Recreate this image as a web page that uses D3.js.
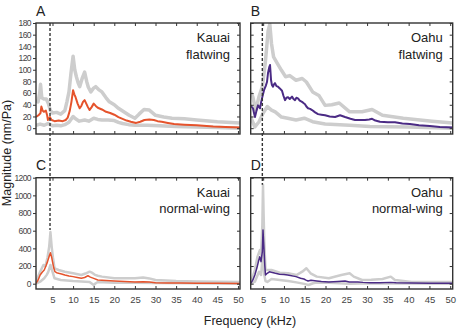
<!DOCTYPE html>
<html>
<head>
<meta charset="utf-8">
<script src="https://cdn.jsdelivr.net/npm/d3@7"></script>
<style>
body { margin: 0; background: #fff; }
svg { display: block; font-family: "Liberation Sans", Arial, sans-serif; }
</style>
</head>
<body>
<script>
var w = 461;
var h = 332;

// frequency ticks (kHz) and magnitude ticks (nm/Pa)
var xTicks = [5, 10, 15, 20, 25, 30, 35, 40, 45, 50];
var yTicksFlat = [0, 20, 40, 60, 80, 100, 120, 140, 160, 180];
var yTicksNormal = [0, 200, 400, 600, 800, 1000, 1200];

// A: Kauai flatwing, [kHz, nm/Pa]
var kauaiFlatMean = [[1,19],[1.6,22],[2.1,26],[2.3,37],[2.6,30],[2.9,28],[3.4,30],[3.7,22],[3.9,14],[4.2,17],[4.4,19],[4.6,16],[4.8,14],[5.5,12],[6.5,13],[7.5,12],[8.2,14],[8.7,18],[9.2,30],[9.6,45],[10,65],[10.3,58],[10.6,53],[11.1,42],[11.6,34],[12,38],[12.4,45],[12.8,48],[13.2,42],[13.6,36],[14,31],[14.5,36],[15,42],[15.5,38],[16,35],[17,32],[18,28],[19,26],[20,23],[21,19],[22,16],[23,13],[24,11],[25.3,9],[26.3,11],[27.3,14],[28.5,15],[29.6,14],[30.5,12],[31.5,11],[33,9],[34.5,7],[37,6],[40,5],[44,3],[47,2],[50.5,1]];
var kauaiFlatUpper = [[1,48],[1.5,45],[1.9,60],[2.1,75],[2.4,52],[2.9,50],[3.5,50],[4,42],[4.5,30],[5,26],[6,27],[7,24],[8,30],[8.5,45],[9,62],[9.5,95],[10,123],[10.4,100],[10.8,88],[11.2,78],[11.6,71],[12.2,85],[12.8,96],[13.3,80],[13.7,70],[14.3,62],[14.9,68],[15.5,71],[16.2,66],[17,62],[18,52],[18.8,45],[20,40],[21,34],[22.3,28],[23.6,22],[25,17],[26,24],[27.2,32],[28.5,31],[30,22],[32,19],[34,17],[37,16],[40,14],[45,11],[50.5,9]];
var kauaiFlatLower = [[1,5],[2,7],[3,5],[4,8],[5,4],[6,5],[7,4],[8,6],[9,10],[9.6,16],[10,20],[10.6,16],[11.5,12],[12.8,14],[13.8,12],[15,17],[16,15],[17,14],[18.5,14],[20,13],[21,10],[22,8],[23.5,6],[25,5],[28,5],[31,4],[35,3],[40,2],[45,1],[50.5,0]];

// B: Oahu flatwing
var oahuFlatMean = [[2,39],[2.3,36],[2.55,34],[2.8,26],[3.03,19],[3.4,30],[3.76,39],[4,37],[4.24,34],[4.5,44],[4.72,51],[5.2,65],[5.6,72],[5.92,79],[6.16,94],[6.45,104],[6.65,108],[6.9,82],[7.1,74],[7.37,71],[7.6,75],[7.85,77],[8.2,72],[8.57,71],[9,68],[9.53,64],[9.9,55],[10.26,48],[10.6,52],[10.98,53],[11.4,50],[11.94,54],[12.3,50],[12.66,48],[13,52],[13.38,51],[13.8,47],[14.35,45],[14.7,43],[15.07,41],[15.4,37],[15.79,34],[16.3,33],[16.76,31],[17.5,27],[18.2,24],[19,23],[19.9,22],[21,20],[22.3,19],[23.5,22],[24.7,19],[26,16],[27.1,14],[28.3,14],[29.5,14],[30.5,15],[31.2,16],[32,13],[33.1,11],[35,10],[36.7,10],[38.5,8],[40.3,7],[42.5,5],[45.1,3.5],[47.5,2],[50.6,1]];
var oahuFlatUpper = [[2,62],[2.5,54],[3.2,31],[4,54],[4.8,71],[5.5,111],[6.2,167],[6.6,178],[7,145],[7.5,122],[8.4,111],[9.4,99],[10.4,88],[11.4,90],[12.9,82],[14.4,85],[15.4,79],[16.9,62],[18.4,56],[19.9,39],[21.5,40],[23.3,43],[25.8,28],[28.8,28],[31.2,32],[33.7,22],[38.7,17],[45.6,12],[50.6,9]];
var oahuFlatLower = [[2,19],[3,2],[4,11],[5,26],[6,37],[7,31],[7.9,28],[9.4,19],[10.9,17],[12.9,14],[14.9,17],[16.9,11],[19.9,7],[25.8,5],[30.7,3],[40,2],[50.6,0]];

// C: Kauai normal-wing
var kauaiNormalMean = [[1,5],[1.5,40],[2,98],[2.5,130],[3,155],[3.4,200],[3.8,250],[4.2,310],[4.5,350],[4.8,300],[5,250],[5.3,180],[5.6,136],[6,125],[6.5,118],[7.2,110],[8,98],[9,88],[10,80],[11,70],[12,61],[12.8,70],[13.6,90],[14.2,75],[15,60],[16,42],[18,35],[20,30],[22.5,24],[25,20],[27,22],[28.5,20],[30,12],[33,9],[36,7],[40,6],[45,4],[50.5,3]];
var kauaiNormalUpper = [[1,20],[1.5,80],[2,136],[2.8,212],[3.3,200],[3.8,300],[4.2,420],[4.5,585],[4.8,420],[5.1,300],[5.5,174],[6.5,155],[8,136],[10,118],[12,98],[13,115],[14,136],[14.6,125],[15.3,100],[16,90],[17,80],[20,61],[25,61],[27,70],[28.5,60],[30,42],[35,30],[40,25],[50.5,20]];
var kauaiNormalLower = [[1,0],[2,23],[3,61],[3.6,100],[4,136],[4.5,212],[5,136],[5.5,61],[7,42],[10,30],[12,25],[14,20],[15,-15],[15.5,5],[16,20],[20,12],[25,10],[30,8],[40,4],[50.5,0]];

// D: Oahu normal-wing
var oahuNormalMean = [[2,3],[2.5,40],[3,98],[3.5,180],[3.9,260],[4.17,305],[4.48,250],[4.8,362],[4.96,608],[5.1,480],[5.27,325],[5.4,200],[5.56,98],[5.97,118],[6.5,135],[6.96,130],[7.95,118],[8.93,108],[10,104],[10.9,98],[12.9,80],[14,62],[14.8,53],[15.3,40],[15.8,30],[16.5,38],[17.9,30],[19,24],[20.8,20],[23,25],[24.7,30],[25.7,20],[27.8,20],[29,15],[30.7,12],[33,12],[35.7,15],[37,10],[40.6,8],[45,6],[50.6,5]];
var oahuNormalUpper = [[2,20],[2.5,80],[3,155],[3.6,300],[4.2,380],[4.5,325],[4.8,665],[4.96,1120],[5.1,800],[5.27,475],[5.56,155],[6,155],[7,155],[9,125],[11,118],[13,98],[14.4,136],[15.4,175],[16.4,118],[17.9,80],[20.8,61],[23.8,98],[25.8,118],[26.8,80],[28.8,42],[31,45],[33.7,53],[35.7,80],[36.7,42],[40.7,20],[50.6,20]];
var oahuNormalLower = [[2,0],[3,23],[4,136],[4.5,98],[4.96,362],[5.27,98],[5.56,30],[6,20],[7,53],[9,42],[11,30],[13,15],[14.9,-2],[15.9,-15],[17,5],[17.9,12],[20.8,12],[25.8,0],[30.7,5],[40,2],[50.6,0]];

// best-frequency markers (kHz)
var kauaiMarker = 4.4;
var oahuMarker = 4.8;

var orange = "#e5532c";
var purple = "#4b2b85";
var gray = "#cdcdcd";
var ink = "#333";

var panels = [
    {id: "A", name: ["Kauai", "flatwing"], left: 36, right: 240, top: 23, bottom: 134,
     xd: [1, 50.5], yd: [-10, 180], yt: yTicksFlat, labelsY: true, labelsX: false,
     mean: kauaiFlatMean, upper: kauaiFlatUpper, lower: kauaiFlatLower, color: orange, thick: true},
    {id: "B", name: ["Oahu", "flatwing"], left: 250.7, right: 452.7, top: 23, bottom: 134,
     xd: [2, 50.6], yd: [-10, 180], yt: yTicksFlat, labelsY: false, labelsX: false,
     mean: oahuFlatMean, upper: oahuFlatUpper, lower: oahuFlatLower, color: purple, thick: true},
    {id: "C", name: ["Kauai", "normal-wing"], left: 36, right: 240, top: 177.7, bottom: 289,
     xd: [1, 50.5], yd: [-60, 1200], yt: yTicksNormal, labelsY: true, labelsX: true,
     mean: kauaiNormalMean, upper: kauaiNormalUpper, lower: kauaiNormalLower, color: orange, thick: false},
    {id: "D", name: ["Oahu", "normal-wing"], left: 250.7, right: 452.7, top: 177.7, bottom: 289,
     xd: [2, 50.6], yd: [-60, 1200], yt: yTicksNormal, labelsY: false, labelsX: true,
     mean: oahuNormalMean, upper: oahuNormalUpper, lower: oahuNormalLower, color: purple, thick: false}
];

var svg = d3.select("body").append("svg")
    .attr("width", w)
    .attr("height", h);

panels.forEach(function(p) {
    p.x = d3.scaleLinear().domain(p.xd).range([p.left, p.right]);
    p.y = d3.scaleLinear().domain(p.yd).range([p.bottom, p.top]);

    var g = svg.append("g");

    svg.append("clipPath")
        .attr("id", "clip" + p.id)
        .append("rect")
        .attr("x", p.left).attr("y", p.top)
        .attr("width", p.right - p.left).attr("height", p.bottom - p.top);

    var line = d3.line()
        .x(function(d) { return p.x(d[0]); })
        .y(function(d) { return p.y(d[1]); });

    var lines = g.append("g").attr("clip-path", "url(#clip" + p.id + ")");
    [p.upper, p.lower].forEach(function(s) {
        lines.append("path")
            .attr("d", line(s))
            .attr("fill", "none")
            .attr("stroke", gray)
            .attr("stroke-width", p.thick ? 3.5 : 2.5)
            .attr("stroke-linejoin", "round");
    });
    lines.append("path")
        .attr("d", line(p.mean))
        .attr("fill", "none")
        .attr("stroke", p.color)
        .attr("stroke-width", p.thick ? 2 : 1.5)
        .attr("stroke-linejoin", "round");

    // axes, ticks pointing inwards except the labelled left side
    var left = d3.axisLeft(p.y).tickValues(p.yt)
        .tickSize(p.labelsY ? 3 : -3).tickPadding(2)
        .tickFormat(p.labelsY ? d3.format("d") : "");
    var gl = g.append("g")
        .attr("transform", "translate(" + p.left + ",0)")
        .call(left);
    gl.selectAll("text")
        .attr("font-size", "8.5px")
        .attr("letter-spacing", "-0.6px")
        .attr("fill", "#444");

    g.append("g")
        .attr("transform", "translate(" + p.right + ",0)")
        .call(d3.axisRight(p.y).tickValues(p.yt).tickSize(-3).tickFormat(""));
    g.append("g")
        .attr("transform", "translate(0," + p.top + ")")
        .call(d3.axisTop(p.x).tickValues(xTicks).tickSize(-3).tickFormat(""));

    var bottom = d3.axisBottom(p.x).tickValues(xTicks).tickSize(-3).tickPadding(7);
    if (!p.labelsX) bottom.tickFormat("");
    var gb = g.append("g")
        .attr("transform", "translate(0," + p.bottom + ")")
        .call(bottom);
    gb.selectAll("text")
        .attr("font-size", "9.5px")
        .attr("fill", "#444");

    g.selectAll(".domain").remove();
    g.selectAll(".tick line").attr("stroke", ink).attr("stroke-width", 1);

    g.append("rect")
        .attr("x", p.left).attr("y", p.top)
        .attr("width", p.right - p.left).attr("height", p.bottom - p.top)
        .attr("fill", "none")
        .attr("stroke", ink)
        .attr("stroke-width", 1.4);

    g.append("text")
        .attr("x", p.left)
        .attr("y", p.top - 7.5)
        .attr("font-size", "14px")
        .attr("fill", "#222")
        .text(p.id);

    g.selectAll(".name")
        .data(p.name)
        .enter()
        .append("text")
        .attr("class", "name")
        .attr("x", p.right - 10)
        .attr("y", function(d, i) { return p.top + 19 + i * 16.5; })
        .attr("text-anchor", "end")
        .attr("font-size", "13px")
        .attr("fill", "#222")
        .text(function(d) { return d; });
});

// dashed markers running from the flatwing panel down into the normal-wing panel
svg.append("line")
    .attr("x1", panels[0].x(kauaiMarker)).attr("x2", panels[0].x(kauaiMarker))
    .attr("y1", panels[0].top).attr("y2", panels[2].y(kauaiNormalUpper[7][1]) - 2)
    .attr("stroke", ink).attr("stroke-width", 1.4).attr("stroke-dasharray", "3,2");
svg.append("line")
    .attr("x1", panels[1].x(oahuMarker)).attr("x2", panels[1].x(oahuMarker))
    .attr("y1", panels[1].top).attr("y2", panels[3].y(oahuNormalUpper[7][1]))
    .attr("stroke", ink).attr("stroke-width", 1.4).attr("stroke-dasharray", "3,2");

svg.append("text")
    .attr("transform", "translate(11,153) rotate(-90)")
    .attr("text-anchor", "middle")
    .attr("font-size", "12.5px")
    .attr("fill", "#222")
    .text("Magnitude (nm/Pa)");

svg.append("text")
    .attr("x", 250)
    .attr("y", 325)
    .attr("text-anchor", "middle")
    .attr("font-size", "12.5px")
    .attr("fill", "#222")
    .text("Frequency (kHz)");
</script>
</body>
</html>
